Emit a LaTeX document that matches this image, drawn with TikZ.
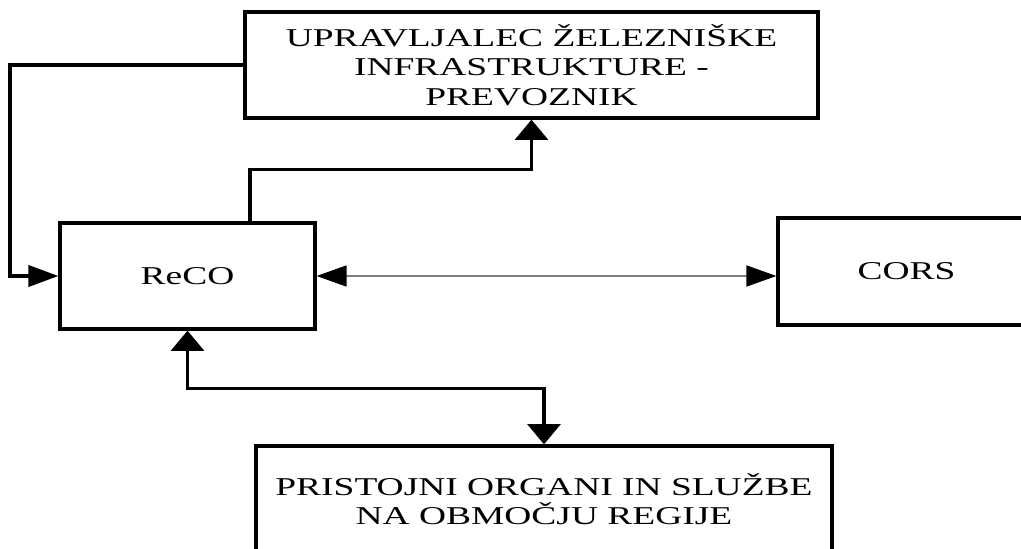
\documentclass[tikz,border=0pt]{standalone}
\usepackage{fontspec}
\setmainfont{Liberation Serif}[FakeStretch=1.46]
\usetikzlibrary{arrows.meta}
\tikzset{
  blok/.style={draw, rectangle, line width=1.9pt, align=center, inner sep=0pt,
    font=\fontsize{14.6}{16.9}\selectfont},
  vez/.style={line width=1.9pt},
  htip/.tip={Triangle[length=17pt,width=12pt,color=black]},
  vtip/.tip={Triangle[length=11.5pt,width=18.7pt,color=black]}
}
\begin{document}
\begin{tikzpicture}[x=0.02cm,y=-0.02cm]
      \useasboundingbox (0,0) rectangle (1021,548);
      \clip (0,0) rectangle (1021,548);
      \node[blok, minimum width=11.46cm, minimum height=2.12cm] (upr) at (531.5,65)
        {UPRAVLJALEC ŽELEZNIŠKE\\INFRASTRUKTURE -\\PREVOZNIK};
      \node[blok, minimum width=5.1cm, minimum height=2.12cm] (reco) at (187.5,276) {ReCO};
      \node[blok, minimum width=5.14cm, minimum height=2.14cm] (cors) at (906.5,271.5) {CORS};
      \node[blok, minimum width=11.52cm, minimum height=2.12cm] (org) at (544,499)
        {PRISTOJNI ORGANI IN SLUŽBE\\NA OBMOČJU REGIJE};
      \coordinate (lom) at (10,65);
      \draw[vez, -{htip}] (upr.west) -- (lom) |- (reco.west);
      \draw[vez, -{vtip}] ([xshift=1.25cm]reco.north) -- ++(0,-52) -| (upr.south);
      \draw[line width=0.6pt, gray, {htip}-{htip}] (reco.east) -- (reco.east -| cors.west);
      \draw[vez, {vtip}-{vtip}] (reco.south) -- ++(0,58) -| (org.north);
    \end{tikzpicture}
\end{document}
